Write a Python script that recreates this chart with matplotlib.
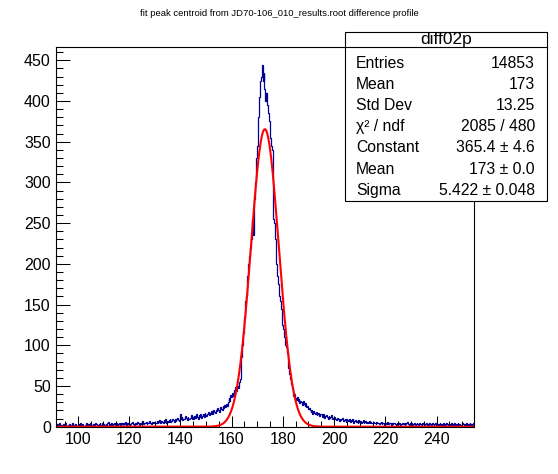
import numpy as np
import matplotlib
matplotlib.use("Agg")
import matplotlib.pyplot as plt
from matplotlib.patches import Rectangle
from matplotlib.ticker import MultipleLocator

# ---------------- data ----------------
title = "fit peak centroid from JD70-106_010_results.root difference profile"
hist_name = "diff02p"
hist_lo = 91.5
bin_width = 1.0 / 3.0

# bin contents, left to right
tail_far_left = [1,3,0,2,4,1,2,0,3,1, 2,5,1,0,2,3,1,2,0,4, 2,1,3,2,0,1,3,2,4,1,
                 2,3,1,0,2,5,2,1,3,2, 4,2,1,3,0,2,4,3,1,2, 3,5,2,1,4,3,2,1,3,2,
                 4,6,2,3,1,4,2,3,5,2, 4,3,1,3,4,2,5,3,2,4, 3,6,2,4,3,5,2,3,4,6,
                 3,2,5,4,3,6,4,2,5,3, 4,7,3,5,4,6,3,4,5,7, 4,3,6,5,4,6,5]
tail_left = [5,7,4,6,8,5,7,6,4,8, 6,9,5,7,6,8,10,6,7,9, 8,6,10,7,9,11,8,7,16,9,
             12,8,10,9,13,11,8,12,10,9, 11,14,10,12,9,13,11,15,12,10, 14,12,16,11,13,15,12,17,14,13]
shoulder_left = [15,18,14,17,16,19,15,20,18,17, 21,19,23,20,18,24,22,21,25,23, 27,24,28,26]
rise_left = [30,35,32,39,36,42,38,45,41,49,44,50,47,55,58]
core = [65,85,100, 115,135,155, 160,165,185, 200,210,220, 230,240,255, 235,280,300,
        330,345,365, 380,405,425, 430,444,425, 435,415,400, 410,395,385, 375,360,355,
        345,340,255, 250,230,215, 200,185,175, 160,155,145, 135,125,120, 110,100,98,
        90,80,72]
fall_right = [65,58,52,47,44,38,40,35,33,37, 31,34,29,32,30,27,31,28,25,29, 24,26,22,23]
shoulder_right = [21,18,20,16,19,17,15,18,14,16, 17,13,15,16,12,14,15,11,13,14,
                  12,10,13,11,12,14,10,11,12,9]
tail_right = [10,8,11,9,7,10,8,9,11,7, 8,10,6,9,8,7,9,6,8,7, 9,5,7,8,6,7,5,8,6,7,
              5,6,8,4,6,7,5,6,4,7, 5,6,4,5,6]
tail_far_right = [4,5,3,6,4,5,3,4,6,3, 5,4,2,5,3,4,6,3,4,5, 2,4,3,5,4,3,2,4,5,3,
                  4,2,3,5,3,4,2,3,4,6, 3,2,4,3,5,2,3,4,2,3, 5,3,2,4,3,2,4,3,5,2,
                  3,4,2,3,1,4,3,2,5,3, 2,3,4,2,3,1,3,4,2,3, 2,4,1,3,2,5,3,2,3,1,
                  4,2,3,2,4,1,3,2,5,2, 3,1,2,4,3,2,3,1,4,2, 3,2,5,1,3,2,4]

# statistics / fit results
entries = 14853
stat_mean = "173"
stat_std = "13.25"
chi2, ndf = 2085, 480
fit_const, fit_const_err = 365.4, 4.6
fit_mean, fit_mean_err = 173.0, 0.0
fit_sigma, fit_sigma_err = 5.422, 0.048

x_range = (91.4, 254.7)
y_range = (0, 466)
x_ticks = [100, 120, 140, 160, 180, 200, 220, 240]
y_ticks = [0, 50, 100, 150, 200, 250, 300, 350, 400, 450]

# ---------------- plot ----------------
FONT = "Liberation Sans"
plt.rcParams["font.family"] = [FONT, "DejaVu Sans"]

W, H = 558, 474
fig = plt.figure(figsize=(W / 100, H / 100), dpi=100)
fig.patch.set_facecolor("white")

L, R, T, B = 55.7, 474.3, 47.3, 426.7
ax = fig.add_axes([L / W, 1 - B / H, (R - L) / W, (B - T) / H])

counts = np.array(tail_far_left + tail_left + shoulder_left + rise_left + core +
                  fall_right + shoulder_right + tail_right + tail_far_right, dtype=float)
edges = hist_lo + np.arange(len(counts) + 1) * bin_width
ax.stairs(counts, edges, color="#000099", lw=0.9, baseline=None)

xf = np.linspace(edges[0], edges[-1], 2000)
yf = fit_const * np.exp(-0.5 * ((xf - fit_mean) / fit_sigma) ** 2)
ax.plot(xf, yf, color="#ff0000", lw=1.5)

ax.set_xlim(*x_range)
ax.set_ylim(*y_range)
ax.set_xticks(x_ticks)
ax.set_yticks(y_ticks)
ax.xaxis.set_minor_locator(MultipleLocator(5))
ax.yaxis.set_minor_locator(MultipleLocator(10))
ax.tick_params(which="both", direction="in", top=False, right=False, width=0.75)
ax.tick_params(axis="x", which="major", length=8, pad=3.5, labelsize=11.5)
ax.tick_params(axis="x", which="minor", length=4)
ax.tick_params(axis="y", which="major", length=10, pad=3.5, labelsize=11.5)
ax.tick_params(axis="y", which="minor", length=5)
for s in ax.spines.values():
    s.set_linewidth(0.8)

fig.text(0.5, 1 - 14 / H, title, ha="center", va="center", fontsize=6.8, family=FONT)

# stats box
bx0, bx1, by0, by1, bsep = 345, 547, 31.7, 201, 47.3
fig.add_artist(Rectangle((bx0 / W, 1 - by1 / H), (bx1 - bx0) / W, (by1 - by0) / H,
                         transform=fig.transFigure, fill=True, facecolor="white",
                         edgecolor="black", lw=0.8))
fig.add_artist(plt.Line2D([bx0 / W, bx1 / W], [1 - bsep / H, 1 - bsep / H],
                          transform=fig.transFigure, color="black", lw=0.8))
fig.text((bx0 + bx1) / 2 / W, 1 - (by0 + bsep) / 2 / H, hist_name, ha="center",
         va="center", fontsize=12.5, family=FONT)
rows = [
    ("Entries", f"{entries}"),
    ("Mean", stat_mean),
    ("Std Dev", stat_std),
    ("\u03c7\u00b2 / ndf", f"{chi2} / {ndf}"),
    ("Constant", f"{fit_const:.1f} \u00b1 {fit_const_err:.1f}"),
    ("Mean", f"{fit_mean:.0f} \u00b1 {fit_mean_err:.1f}"),
    ("Sigma", f"{fit_sigma:.3f} \u00b1 {fit_sigma_err:.3f}"),
]
row0, dy = 63, 21.2
for i, (k, v) in enumerate(rows):
    yy = 1 - (row0 + i * dy) / H
    fig.text(356 / W, yy, k, ha="left", va="center", fontsize=11.3, family=FONT)
    fig.text(535 / W, yy, v, ha="right", va="center", fontsize=11.3, family=FONT)

fig.savefig("out.png", dpi=100)
